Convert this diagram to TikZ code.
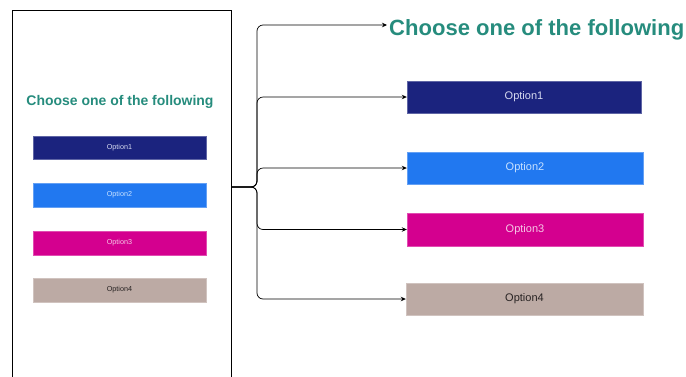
\documentclass[tikz,border=0pt]{standalone}
\usepackage{fontspec}
\setmainfont{Liberation Sans}
\usetikzlibrary{arrows.meta}
\definecolor{titleteal}{RGB}{38,140,125}
\definecolor{opone}{RGB}{27,35,126}
\definecolor{optwo}{RGB}{33,120,240}
\definecolor{opthree}{RGB}{212,0,143}
\definecolor{opfour}{RGB}{188,170,164}
\tikzset{
  optbox/.style={rectangle, inner sep=0pt, draw=#1!70!white, line width=0.4pt, fill=#1},
  small/.style={font=\fontsize{7.2}{8}\selectfont},
  large/.style={font=\fontsize{11}{13}\selectfont},
  conn/.style={draw=black, line width=0.7pt, rounded corners=6pt, -{Stealth[length=5pt,width=4.5pt]}},
}
\begin{document}
\begin{tikzpicture}[x=1pt,y=-1pt]
\useasboundingbox (0,0) rectangle (686,376);
\clip (0,0) rectangle (686,376);
% phone frame
\node[draw=black, line width=0.8pt, rectangle, inner sep=0pt, minimum width=219pt, minimum height=380pt] (phone) at (121.5,200) {};
\coordinate (src) at (231,187);
\coordinate (hub) at (257,187);
% left content
\node (ltitle) at (120,102) {\resizebox{187pt}{!}{\color{titleteal}\bfseries Choose one of the following}};
\node[optbox=opone, minimum width=173pt, minimum height=23pt, text={rgb,255:red,215;green,218;blue,240}, small] (l1) at (119.5,147.5) {Option1};
\node[optbox=optwo, minimum width=173pt, minimum height=24pt, text={rgb,255:red,200;green,225;blue,255}, small] (l2) at (119.5,195) {Option2};
\node[optbox=opthree, minimum width=173pt, minimum height=24pt, text={rgb,255:red,245;green,200;blue,230}, small] (l3) at (119.5,243) {Option3};
\node[optbox=opfour, minimum width=173pt, minimum height=24pt, text={rgb,255:red,40;green,35;blue,35}, small] (l4) at (119.5,290) {Option4};
% right content
\node[anchor=west, inner sep=0pt] (rtitle) at (389,30) {\resizebox{295pt}{!}{\color{titleteal}\bfseries Choose one of the following}};
\node[optbox=opone, minimum width=234pt, minimum height=32pt, text={rgb,255:red,215;green,218;blue,240}, large] (r1) at (524,97) {Option1};
\node[optbox=optwo, minimum width=236pt, minimum height=32pt, text={rgb,255:red,200;green,225;blue,255}, large] (r2) at (525,168) {Option2};
\node[optbox=opthree, minimum width=236pt, minimum height=33pt, text={rgb,255:red,245;green,200;blue,230}, large] (r3) at (525,229.5) {Option3};
\node[optbox=opfour, minimum width=237pt, minimum height=32pt, text={rgb,255:red,40;green,35;blue,35}, large] (r4) at (524.5,299) {Option4};
% connectors
\draw[conn] (src) -- (hub) |- ([yshift=5pt,xshift=-2pt]rtitle.west);
\draw[conn] (src) -- (hub) |- (r1.west);
\draw[conn] (src) -- (hub) |- (r2.west);
\draw[conn] (src) -- (hub) |- (r3.west);
\draw[conn] (src) -- (hub) |- (r4.west);
\end{tikzpicture}
\end{document}
